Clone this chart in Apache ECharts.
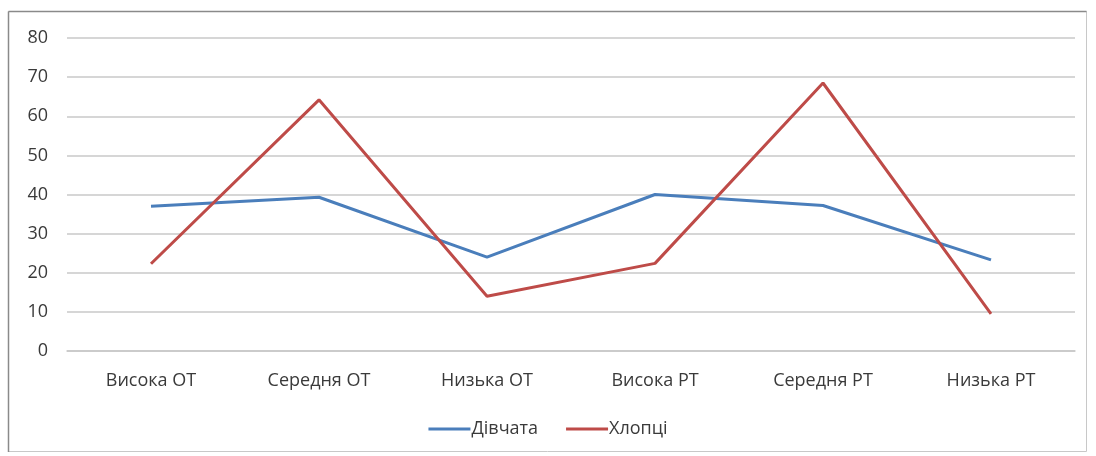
<!DOCTYPE html>
<html><head><meta charset="utf-8">
<script src="https://cdn.jsdelivr.net/npm/echarts@6/dist/echarts.min.js"></script>
<style>html,body{margin:0;padding:0;background:#fff}#c{width:1096px;height:456px}</style>
</head><body><div id="c"></div>
<script>
const categories = ['Висока ОТ','Середня ОТ','Низька ОТ','Висока РТ','Середня РТ','Низька РТ'];
const girls = [37, 39.3, 24, 40, 37.2, 23.3];
const boys = [22.3, 64.2, 14, 22.4, 68.5, 9.5];
const seriesNames = ['Дівчата','Хлопці'];
const yTicks = [0,10,20,30,40,50,60,70,80];

const font = '"Open Sans", "Noto Sans", sans-serif';
const chart = echarts.init(document.getElementById('c'));
chart.setOption({
  animation: false,
  backgroundColor: '#fff',
  graphic: [
    {type:'rect', shape:{x:8.5,y:11.5,width:1078,height:440}, style:{fill:'none', stroke:'#c8c8c8', lineWidth:1}},
    {type:'line', shape:{x1:8.5,y1:11.5,x2:1086.5,y2:11.5}, style:{stroke:'#8a8a8a', lineWidth:1.5}},
    {type:'line', shape:{x1:8.5,y1:11.5,x2:8.5,y2:452}, style:{stroke:'#8a8a8a', lineWidth:1.5}}
  ],
  grid: {left: 67, right: 21, top: 38, bottom: 105},
  legend: {
    bottom: 13, left: 'center', itemGap: 28, itemWidth: 42, itemHeight: 3,
    icon: 'rect',
    textStyle: {color: '#3a3a3a', fontSize: 18, fontFamily: font, padding:[0,0,0,-4]},
    data: seriesNames
  },
  xAxis: {
    type: 'category', data: categories, boundaryGap: true,
    axisLine: {show: true, lineStyle: {color: '#c8c8c8', width: 1.5}},
    axisTick: {show: false},
    axisLabel: {color: '#3a3a3a', fontSize: 18, fontFamily: font, margin: 21}
  },
  yAxis: {
    type: 'value', min: 0, max: 80, interval: 10,
    axisLine: {show: false}, axisTick: {show: false},
    splitLine: {lineStyle: {color: '#c8c8c8', width: 1.5}},
    axisLabel: {color: '#3a3a3a', fontSize: 18, fontFamily: font, margin: 19,
      formatter: v => yTicks.includes(v) ? String(v) : ''}
  },
  series: [
    {name: seriesNames[0], type: 'line', data: girls, symbol: 'none',
     lineStyle: {color: '#4A7EBB', width: 3}, itemStyle: {color: '#4A7EBB'}},
    {name: seriesNames[1], type: 'line', data: boys, symbol: 'none',
     lineStyle: {color: '#BE4B48', width: 3}, itemStyle: {color: '#BE4B48'}}
  ]
});
</script></body></html>
